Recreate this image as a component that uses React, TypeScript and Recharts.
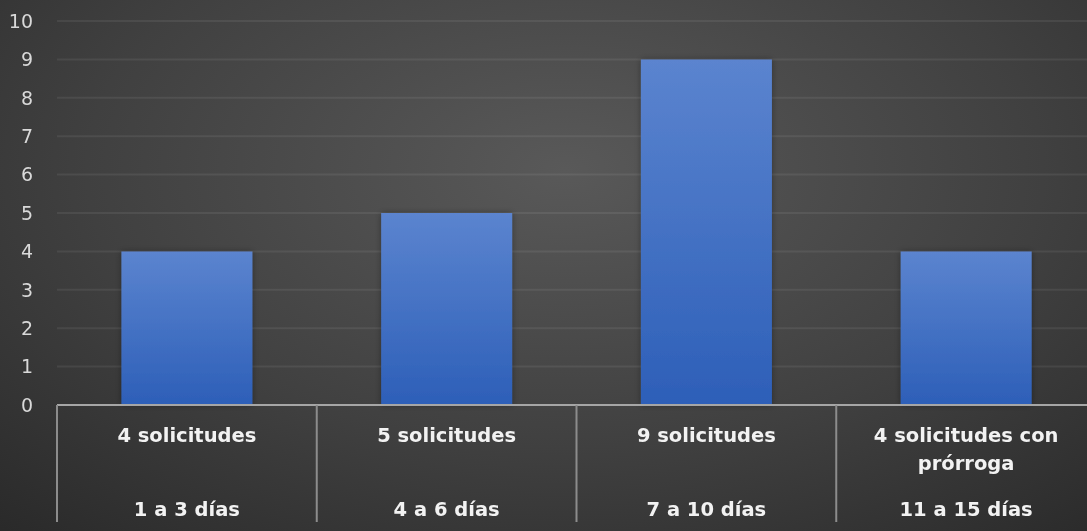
import React from "react";
import { BarChart, Bar, XAxis, YAxis, CartesianGrid } from "recharts";

const topLabels = ["4 solicitudes", "5 solicitudes", "9 solicitudes", "4 solicitudes con prórroga"];
const rangeLabels = ["1 a 3 días", "4 a 6 días", "7 a 10 días", "11 a 15 días"];
const counts = [4, 5, 9, 4];
const yTicks = [0, 1, 2, 3, 4, 5, 6, 7, 8, 9, 10];

const data = rangeLabels.map((range, i) => ({
  range,
  top: topLabels[i],
  count: counts[i],
}));

const FONT = "'DejaVu Sans', Verdana, sans-serif";

const splitTop = (text: string) => {
  // the long label wraps onto two lines like in the original
  if (text.length <= 16) return [text];
  const idx = text.lastIndexOf(" ");
  return [text.slice(0, idx), text.slice(idx + 1)];
};

const CategoryTick = (props: any) => {
  const { x, y, payload, index } = props;
  const half = payload.offset || 0;
  const left = x - half;
  const lines = splitTop(topLabels[index]);
  return (
    <g>
      <line x1={left} y1={y} x2={left} y2={y + 117} stroke="#8c8c8c" strokeWidth={2} />
      {lines.map((l, i) => (
        <text
          key={i}
          x={x}
          y={y + 37 + i * 28}
          textAnchor="middle"
          fill="#f2f2f2"
          fontSize={19.5}
          fontWeight="bold"
          fontFamily={FONT}
        >
          {l}
        </text>
      ))}
      <text
        x={x}
        y={y + 111}
        textAnchor="middle"
        fill="#f2f2f2"
        fontSize={19.5}
        fontWeight="bold"
        fontFamily={FONT}
      >
        {payload.value}
      </text>
    </g>
  );
};

const App: React.FC = () => {
  return (
    <div
      style={{
        position: "fixed",
        left: 0,
        top: 0,
        width: 1087,
        height: 531,
        overflow: "hidden",
        background: "radial-gradient(ellipse 80% 95% at 52% 32%, #595959 0%, #404040 55%, #282828 100%)",
      }}
    >
      <BarChart
        width={1096}
        height={531}
        data={data}
        margin={{ top: 21, right: 0, left: 0, bottom: 0 }}
        barCategoryGap="24.8%"
      >
        <defs>
          <linearGradient id="barFill" x1="0" y1="0" x2="0" y2="1">
            <stop offset="0%" stopColor="#5b84cf" />
            <stop offset="100%" stopColor="#2d5fb8" />
          </linearGradient>
          <filter id="barShadow" x="-10%" y="-10%" width="120%" height="120%">
            <feDropShadow dx="0" dy="0" stdDeviation="3" floodColor="#000" floodOpacity="0.35" />
          </filter>
        </defs>
        <CartesianGrid vertical={false} stroke="#ffffff" strokeOpacity={0.07} strokeWidth={2} />
        <XAxis
          dataKey="range"
          interval={0}
          height={126}
          tickLine={false}
          tickSize={0}
          tickMargin={0}
          axisLine={{ stroke: "#a6a6a6", strokeWidth: 2 }}
          tick={<CategoryTick />}
        />
        <YAxis
          width={57}
          domain={[0, 10]}
          ticks={yTicks}
          interval={0}
          axisLine={false}
          tickLine={false}
          tickSize={6}
          tickMargin={18}
          tick={{ fill: "#d9d9d9", fontSize: 19, fontFamily: FONT }}
        />
        <Bar dataKey="count" fill="url(#barFill)" filter="url(#barShadow)" isAnimationActive={false} />
      </BarChart>
    </div>
  );
};

export default App;
